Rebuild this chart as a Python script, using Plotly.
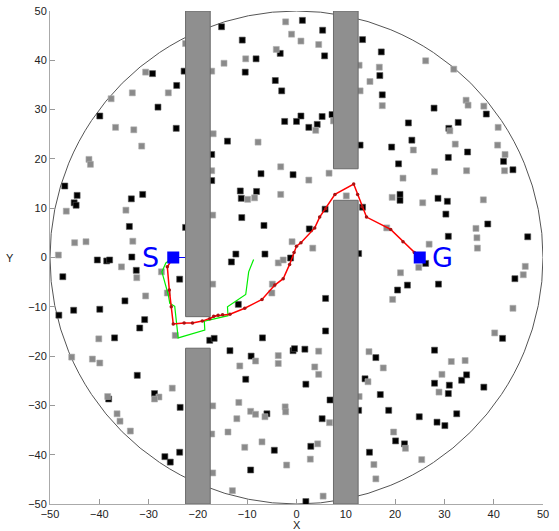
import plotly.graph_objects as go

# ---- data ----
black_x = [-29.2, -24.3, -22.8, -39.9, -28.1, -24.4, -17.2, -15.2, 1.2, 5.3, -11.0, -3.3, 5.7, -8.2, -10.4, -4.3, -3.0,
           0.9, 5.2, -2.4, 0.0, 2.5, 4.2, 7.2, -14.0, -7.2, -0.7, 13.4, 12.9, 16.9, 17.2, 17.4, 27.9, 38.5, 22.7, 32.8,
           30.9, 23.4, 19.3, 34.7, 30.8, 42.0, 20.7, 43.9, -47.0, -44.5, -45.1, -44.7, -33.5, -31.2, -33.9, -40.4,
           -38.5, -37.9, -33.4, -32.5, -47.4, -23.7, -34.8, -48.2, -45.2, -39.9, -30.8, -31.8, -17.2, -22.5, -11.4,
           -8.1, -11.2, 5.8, 13.4, -11.1, -6.6, 2.6, -12.3, -6.4, -13.2, -1.2, 12.6, -11.8, 5.9, 5.9, 21.0, 21.0, 28.7,
           30.6, 30.3, 38.8, 30.8, 46.9, 26.2, 22.5, 20.5, 28.8, 44.3, -36.9, -32.3, -28.8, -38.1, -23.6, -26.7, -25.6,
           -23.7, -17.6, -16.7, -6.9, -13.5, -9.2, -0.7, -0.4, 1.7, -10.3, 1.9, 6.8, -6.0, 5.2, -4.5, 2.9, -9.3, 1.9,
           16.1, 13.9, 17.0, 12.6, 14.8, 18.7, 20.1, 21.9, 24.9, 28.5, 30.1, 32.5, 28.0, 28.0, 31.0, 33.5, 34.5, 30.8,
           38.0, 41.8]
black_y = [37.3, 34.9, 37.8, 28.7, 30.5, 26.2, 20.9, 46.8, 48.1, 46.1, 44.1, 41.4, 40.9, 40.3, 37.6, 35.9, 33.8,
           28.7, 28.6, 27.6, 27.6, 26.4, 27.0, 29.0, 23.6, 17.0, 16.8, 44.2, 22.8, 36.9, 41.7, 33.0, 30.3, 29.1, 27.3,
           27.4, 26.2, 23.8, 22.4, 21.4, 20.3, 19.5, 19.0, 17.8, 14.5, 12.6, 11.1, 10.6, 11.9, 12.8, 6.3, -0.5,
           -0.7, -0.5, 0.1, -2.6, -3.9, -4.4, -8.8, -11.7, -10.7, -10.5, -12.6, -14.3, 15.6, 6.1, 13.5,
           13.4, 12.0, 9.8, 10.2, 8.1, 6.5, 5.8, 0.7, 0.7, -0.9, -0.1, 0.8, -9.5, -8.3, -14.9, 12.8, 11.6, 12.0,
           11.4, 8.8, 6.8, 4.3, 4.2, -1.2, -5.6, -6.6, -5.4, -4.3, -16.3, -23.9, -27.6, -28.7, -30.4, -40.4, -41.5,
           -39.5, -16.8, -16.4, -16.3, -18.9, -20.0, -18.9, -18.5, -18.6, -24.7, -25.7, -28.9, -31.7, -32.7, -39.1,
           -38.3, -43.1, -49.5, -20.3, -24.6, -27.8, -31.0, -39.5, -31.0, -37.2, -37.8, -32.3, -33.4, -34.1, -31.7,
           -18.8, -25.5, -25.9, -24.9, -23.8, -27.6, -26.3, -16.4]

gray_x = [-30.6, -37.6, -33.3, -26.0, -36.7, -33.0, -31.4, -42.1, -41.8, -22.5, -17.2, -16.9, -17.2, -2.2, -1.0,
          0.9, 4.5, -4.1, -10.3, -14.7, 3.9, 7.5, -7.8, -3.2, 6.6, 12.7, 12.9, 16.8, 14.9, 17.4, 26.2, 31.9, 34.4,
          34.8, 38.0, 31.1, 40.9, 23.7, 32.2, 40.8, 42.3, 28.0, 34.5, 42.2, -46.7, -34.6, -45.0, -42.7, -33.2, -48.3,
          -35.5, -32.4, -27.4, -30.6, -26.2, -17.0, -17.0, 2.5, -9.9, -8.5, -3.2, 10.1, -0.9, 3.3, -3.7, -2.7, -4.9,
          -5.0, 21.6, 19.4, 25.6, 37.9, 36.4, 36.6, 36.7, 26.9, 18.3, 24.8, 21.1, 19.5, 46.4, 46.0, 43.9, 40.2, -40.1,
          -45.6, -41.4, -39.9, -25.2, -27.9, -28.8, -38.3, -36.4, -35.8, -33.7, -24.6, -17.0, -17.2, -17.0, -8.3, -3.7,
          -3.7, 4.5, -11.5, 3.7, 4.5, -11.7, -9.3, -8.3, -6.4, -2.3, -2.2, -12.1, 6.7, -13.9, -7.0, -10.5, 4.3, 2.8,
          -2.0, -13.0, 5.4, 14.7, 14.5, 12.7, 15.7, 16.1, 17.6, 19.7, 22.1, 25.4, 31.4, 34.2, 29.5, 28.9]
gray_y = [37.6, 32.2, 33.4, 33.4, 26.4, 25.9, 22.6, 19.9, 18.9, 43.4, 37.8, 25.1, 17.6, 47.8, 45.3,
          43.9, 43.2, 42.2, 40.3, 39.4, 25.8, 27.7, 23.4, 18.4, 17.1, 39.0, 33.8, 38.6, 35.7, 30.8, 39.9, 38.2, 31.9,
          30.9, 30.7, 25.7, 26.4, 21.8, 23.0, 22.8, 20.9, 17.4, 17.6, 17.6, 9.4, 9.6, 3.0, 3.2, 3.3, 0.5,
          -1.9, -4.1, -2.9, -7.8, -7.2, 8.6, -5.4, 15.7, 11.8, 12.1, 12.8, 12.5, 3.2, 1.9, -1.1, -0.5, -5.4,
          -7.2, 16.1, 12.2, 11.1, 11.7, 5.9, 4.0, 1.9, 2.7, 6.0, -2.0, -3.1, -8.5, -1.8, -3.5, -10.3, -15.3, -16.5,
          -20.2, -20.6, -21.4, -26.5, -28.3, -28.7, -28.2, -31.7, -33.2, -35.2, -15.8, -30.1, -35.8, -43.7, -21.0, -19.9,
          -21.5, -19.0, -22.0, -22.2, -23.7, -29.4, -31.2, -31.8, -32.3, -30.3, -31.3, -32.7, -33.5, -35.4, -37.4, -38.5,
          -37.8, -40.9, -42.1, -47.3, -48.4, -19.1, -25.2, -28.2, -42.0, -44.9, -22.4, -35.4, -38.7, -41.0, -21.1, -20.9,
          -23.7, -27.3]

red_x = [-25.0, -26.2, -25.8, -25.4, -25.0, -22.8, -21.1, -19.1, -17.6, -15.9, -16.8, -15.0, -13.5, -10.5, -7.0,
         -4.4, -2.7, -1.4, -0.5, 0.0, 0.9, 3.7, 4.7, 5.9, 7.8, 11.6, 12.4, 13.3, 14.2, 19.1, 21.6, 23.9, 25.0]
red_y = [0.0, -1.9, -6.6, -10.0, -13.5, -13.3, -13.3, -12.9, -12.4, -11.7, -11.9, -11.6, -11.5, -10.3, -8.5,
         -5.6, -4.3, -1.4, 1.0, 2.3, 3.0, 6.0, 8.2, 9.9, 12.8, 14.9, 12.8, 10.3, 8.2, 5.7, 3.2, 1.0, 0.0]

green_x = [-25.0, -26.5, -27.3, -26.0, -25.7, -24.7, -24.0, -18.6, -18.7, -13.9, -14.0, -10.3, -9.7, -8.7]
green_y = [0.0, -1.1, -2.9, -7.6, -9.3, -9.9, -16.3, -14.7, -12.9, -11.8, -10.0, -7.5, -2.9, -0.4]

start_pt = (-25, 0)
goal_pt = (25, 0)

# obstacles (x0, x1, y0, y1)
walls = [(-22.5, -17.5, -12, 50), (-22.5, -17.5, -50, -18.4),
         (7.5, 12.5, 18, 50), (7.5, 12.5, -50, 11.6)]

tick_vals = [-50, -40, -30, -20, -10, 0, 10, 20, 30, 40, 50]

fig = go.Figure()

fig.add_trace(go.Scatter(x=black_x, y=black_y, mode="markers",
                         marker=dict(symbol="square", size=6, color="#000000",
                                     line=dict(color="#555555", width=0.6)),
                         hoverinfo="skip"))
fig.add_trace(go.Scatter(x=gray_x, y=gray_y, mode="markers",
                         marker=dict(symbol="square", size=6, color="#8a8a8a",
                                     line=dict(color="#b0b0b0", width=0.6)),
                         hoverinfo="skip"))
# short blue segment from S (partly hidden by wall)
fig.add_trace(go.Scatter(x=[start_pt[0], -20], y=[start_pt[1], 0], mode="lines",
                         line=dict(color="#0000ff", width=1), hoverinfo="skip"))
fig.add_trace(go.Scatter(x=green_x, y=green_y, mode="lines",
                         line=dict(color="#00ee00", width=1.2), hoverinfo="skip"))
fig.add_trace(go.Scatter(x=red_x, y=red_y, mode="lines+markers",
                         line=dict(color="#ff0000", width=1.5),
                         marker=dict(size=3.5, color="#aa1111"), hoverinfo="skip"))
fig.add_trace(go.Scatter(x=[start_pt[0], goal_pt[0]], y=[start_pt[1], goal_pt[1]], mode="markers",
                         marker=dict(symbol="square", size=12, color="#0000ff"), hoverinfo="skip"))

shapes = [dict(type="circle", xref="x", yref="y", x0=-50, y0=-50, x1=50, y1=50,
               line=dict(color="#555555", width=1), layer="below")]
for (x0, x1, y0, y1) in walls:
    shapes.append(dict(type="rect", xref="x", yref="y", x0=x0, x1=x1, y0=y0, y1=y1,
                       fillcolor="#8f8f8f", line=dict(color="#6a6a6a", width=1), layer="above"))

annotations = [
    dict(x=start_pt[0] - 4.6, y=0, xref="x", yref="y", text="S", showarrow=False,
         font=dict(family="DejaVu Sans", size=27, color="#0000ff")),
    dict(x=goal_pt[0] + 4.6, y=0, xref="x", yref="y", text="G", showarrow=False,
         font=dict(family="DejaVu Sans", size=27, color="#0000ff")),
    dict(x=0, y=-50, xref="x", yref="y", yshift=-21, text="X", showarrow=False,
         font=dict(family="Liberation Sans", size=11, color="#222222")),
    dict(x=-50, y=0, xref="x", yref="y", xshift=-40, text="Y", showarrow=False,
         font=dict(family="Liberation Sans", size=11, color="#222222")),
]

axis_common = dict(range=[-50, 50], tickvals=tick_vals, ticks="inside", ticklen=5, tickcolor="#999999",
                   showline=True, linecolor="#aaaaaa", linewidth=1, showgrid=False, zeroline=False,
                   automargin=False,
                   tickfont=dict(family="Liberation Sans", size=11, color="#222222"))

fig.update_layout(
    width=559, height=531,
    margin=dict(l=50, r=16, t=11, b=27),
    paper_bgcolor="white", plot_bgcolor="white",
    showlegend=False,
    shapes=shapes,
    annotations=annotations,
    xaxis=dict(**axis_common),
    yaxis=dict(**axis_common),
)

fig.write_html("out.html",
               config={"displayModeBar": False, "staticPlot": True},
               post_script="document.body.style.margin='0';document.body.style.overflow='hidden';")
